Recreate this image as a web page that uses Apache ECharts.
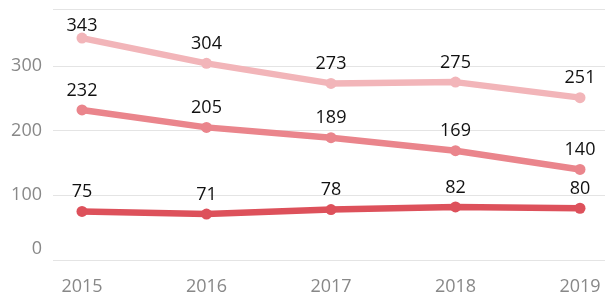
<!DOCTYPE html>
<html>
<head>
<meta charset="utf-8">
<script src="https://cdn.jsdelivr.net/npm/echarts@6/dist/echarts.min.js"></script>
<style>
  html, body { margin: 0; padding: 0; background: #fff; }
  #chart { width: 606px; height: 297px; }
</style>
</head>
<body>
<div id="chart"></div>
<script>
//--------------------------------
// Data
//--------------------------------
const years = ['2015', '2016', '2017', '2018', '2019'];
const topLine = [343, 304, 273, 275, 251];
const midLine = [232, 205, 189, 169, 140];
const lowLine = [75, 71, 78, 82, 80];
const yTicks = [0, 100, 200, 300];

const yMax = 388;

//--------------------------------
// Chart
//--------------------------------
var myChart = echarts.init(document.getElementById('chart'));

const fontFamily = '"Open Sans", "Noto Sans", sans-serif';

const makeSeries = (name, data, color) => ({
    name: name,
    type: 'line',
    xAxisIndex: 1,
    yAxisIndex: 1,
    data: data,
    symbol: 'circle',
    symbolSize: 11,
    lineStyle: { width: 6.5, color: color },
    itemStyle: { color: color },
    label: {
        show: true,
        position: 'top',
        distance: 5,
        color: '#111',
        fontSize: 18,
        fontFamily: fontFamily
    },
    z: 3
});

let options = {
    animation: false,
    grid: [
        { left: 53, right: 1, top: 9, bottom: 37 },
        { left: 82, right: 26, top: 9, bottom: 37 }
    ],
    xAxis: [
        { type: 'value', gridIndex: 0, show: false, min: 0, max: 1 },
        {
            type: 'category',
            gridIndex: 1,
            boundaryGap: false,
            data: years,
            axisLine: { show: false },
            axisTick: { show: false },
            axisLabel: {
                color: '#888',
                fontSize: 18,
                fontFamily: fontFamily,
                margin: 18
            }
        }
    ],
    yAxis: [
        {
            type: 'value',
            gridIndex: 0,
            min: 0,
            max: yMax,
            interval: 100,
            axisLine: { show: false },
            axisTick: { show: false },
            splitLine: { lineStyle: { color: '#e4e4e4', width: 1 } },
            axisLabel: {
                color: '#888',
                fontSize: 18,
                fontFamily: fontFamily,
                margin: 11,
                formatter: (v) => {
                    if (yTicks.indexOf(v) < 0) return '';
                    return v === 0 ? '{z|0}' : String(v);
                },
                rich: {
                    z: { color: '#888', fontSize: 18, fontFamily: fontFamily, padding: [0, 0, 22, 0] }
                }
            }
        },
        { type: 'value', gridIndex: 1, min: 0, max: yMax, show: false }
    ],
    series: [
        makeSeries('a', topLine.map((v, i) => i === 0 ? { value: v, label: { distance: -2 } } : v), '#f2b5b9'),
        makeSeries('b', midLine, '#ea858c'),
        makeSeries('c', lowLine, '#dd515b')
    ]
};
myChart.setOption(options);
</script>
</body>
</html>
